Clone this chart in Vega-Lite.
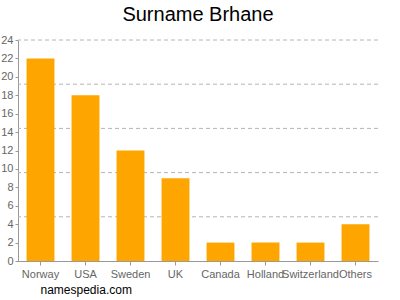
{
  "$schema": "https://vega.github.io/schema/vega-lite/v6.json",
  "width": 360,
  "height": 221,
  "autosize": {"type": "none"},
  "padding": {"left": 18, "top": 40, "right": 22, "bottom": 39},
  "background": "white",
  "config": {"font": "Liberation Sans", "view": {"stroke": null},
    "axis": {"labelOverlap": false, "labelFlush": false}},
  "title": {"text": "Surname Brhane", "fontSize": 20, "fontWeight": "normal", "color": "#000", "offset": 9, "font": "Liberation Sans"},
  "layer": [
    {
      "data": {"values": [{"g": 4.8}, {"g": 9.6}, {"g": 14.4}, {"g": 19.2}, {"g": 24}]},
      "mark": {"type": "rule", "stroke": "#b4b4b4", "strokeDash": [4, 3], "strokeWidth": 1},
      "encoding": {"y": {"field": "g", "type": "quantitative", "scale": {"domain": [0, 24], "nice": false},
          "axis": {"values": [0,2,4,6,8,10,12,14,16,18,20,22,24], "grid": false, "title": null,
            "labelOverlap": false, "labelFlush": false,
            "labelColor": "#666", "labelFontSize": 11, "labelPadding": 2,
            "domainColor": "#999", "tickColor": "#999", "tickSize": 3}}}
    },
    {
      "data": {"values": [
        {"country": "Norway", "count": 22},
        {"country": "USA", "count": 18},
        {"country": "Sweden", "count": 12},
        {"country": "UK", "count": 9},
        {"country": "Canada", "count": 2},
        {"country": "Holland", "count": 2},
        {"country": "Switzerland", "count": 2},
        {"country": "Others", "count": 4}
      ]},
      "mark": {"type": "bar", "color": "#FFA500"},
      "encoding": {
        "x": {"field": "country", "type": "nominal", "sort": null,
          "scale": {"paddingInner": 0.38, "paddingOuter": 0.19},
          "axis": {"labelAngle": 0, "labelColor": "#666", "labelFontSize": 11, "labelPadding": 3,
            "labelOverlap": false,
            "domainColor": "#999", "tickColor": "#999", "tickSize": 4,
            "title": "namespedia.com", "titleFontSize": 12, "titleFontWeight": "normal", "titleColor": "#000",
            "titleAnchor": "start", "titleAlign": "left", "titleBaseline": "top", "titleX": 22, "titleY": 23}},
        "y": {"field": "count", "type": "quantitative",
          "axis": {"values": [0,2,4,6,8,10,12,14,16,18,20,22,24], "grid": false, "title": null,
            "labelOverlap": false, "labelFlush": false,
            "labelColor": "#666", "labelFontSize": 11, "labelPadding": 2,
            "domainColor": "#999", "tickColor": "#999", "tickSize": 3}}
      }
    }
  ]
}
